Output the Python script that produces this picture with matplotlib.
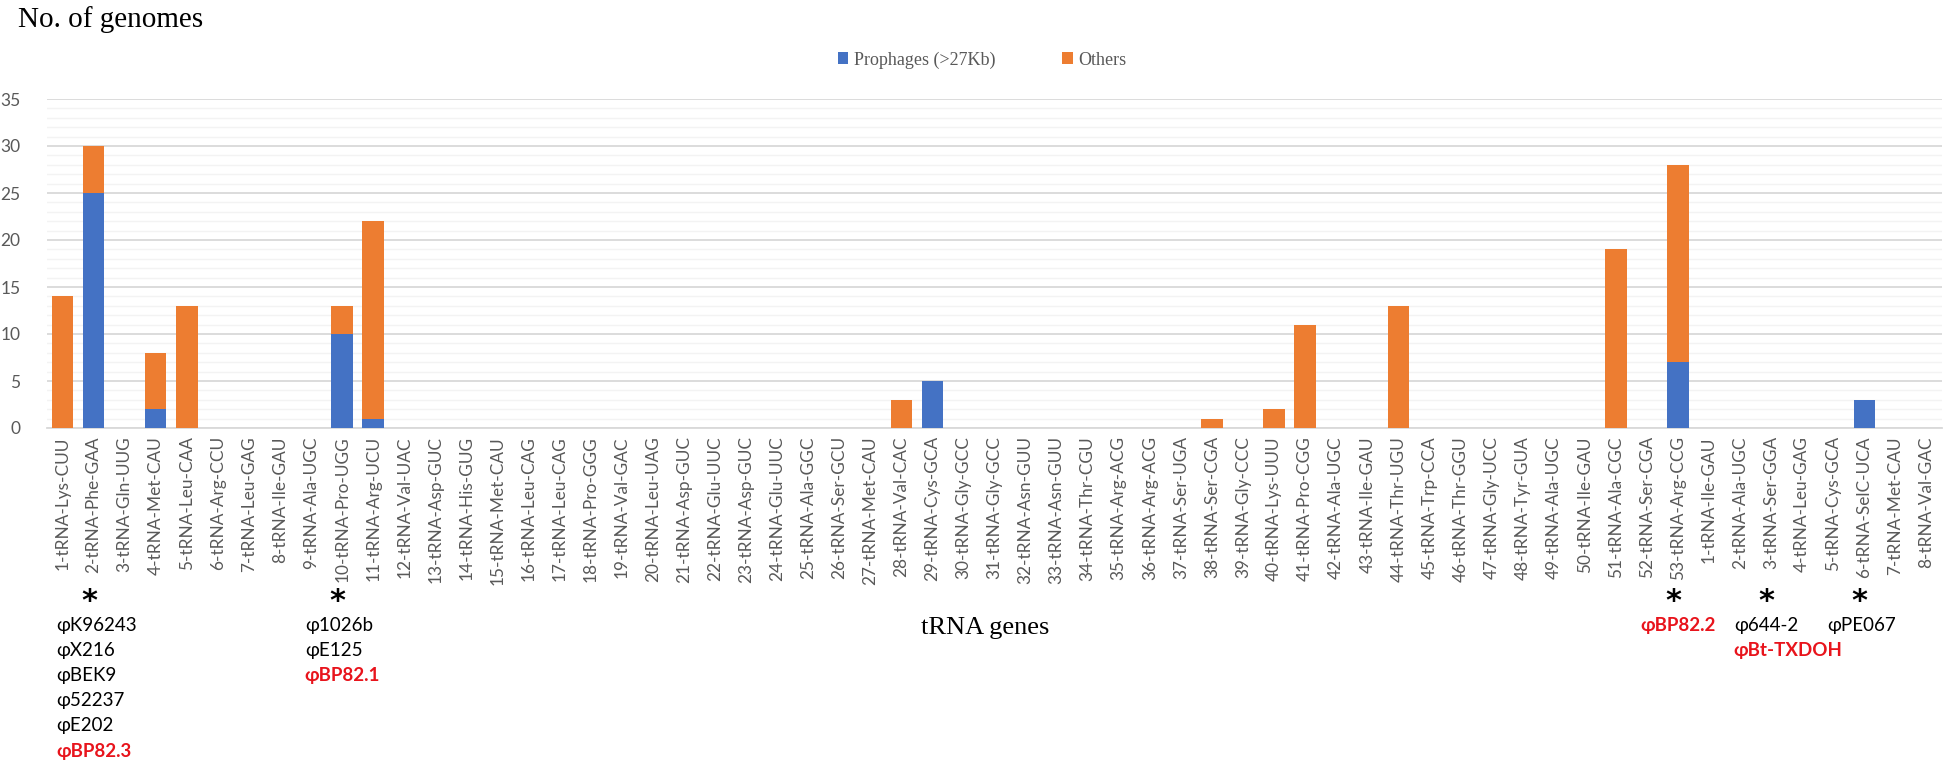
import matplotlib
matplotlib.use("Agg")
import matplotlib.pyplot as plt
import numpy as np
from matplotlib.transforms import blended_transform_factory
from matplotlib.ticker import MultipleLocator

categories = [
    "1-tRNA-Lys-CUU", "2-tRNA-Phe-GAA", "3-tRNA-Gln-UUG", "4-tRNA-Met-CAU", "5-tRNA-Leu-CAA",
    "6-tRNA-Arg-CCU", "7-tRNA-Leu-GAG", "8-tRNA-Ile-GAU", "9-tRNA-Ala-UGC", "10-tRNA-Pro-UGG",
    "11-tRNA-Arg-UCU", "12-tRNA-Val-UAC", "13-tRNA-Asp-GUC", "14-tRNA-His-GUG", "15-tRNA-Met-CAU",
    "16-tRNA-Leu-CAG", "17-tRNA-Leu-CAG", "18-tRNA-Pro-GGG", "19-tRNA-Val-GAC", "20-tRNA-Leu-UAG",
    "21-tRNA-Asp-GUC", "22-tRNA-Glu-UUC", "23-tRNA-Asp-GUC", "24-tRNA-Glu-UUC", "25-tRNA-Ala-GGC",
    "26-tRNA-Ser-GCU", "27-tRNA-Met-CAU", "28-tRNA-Val-CAC", "29-tRNA-Cys-GCA", "30-tRNA-Gly-GCC",
    "31-tRNA-Gly-GCC", "32-tRNA-Asn-GUU", "33-tRNA-Asn-GUU", "34-tRNA-Thr-CGU", "35-tRNA-Arg-ACG",
    "36-tRNA-Arg-ACG", "37-tRNA-Ser-UGA", "38-tRNA-Ser-CGA", "39-tRNA-Gly-CCC", "40-tRNA-Lys-UUU",
    "41-tRNA-Pro-CGG", "42-tRNA-Ala-UGC", "43-tRNA-Ile-GAU", "44-tRNA-Thr-UGU", "45-tRNA-Trp-CCA",
    "46-tRNA-Thr-GGU", "47-tRNA-Gly-UCC", "48-tRNA-Tyr-GUA", "49-tRNA-Ala-UGC", "50-tRNA-Ile-GAU",
    "51-tRNA-Ala-CGC", "52-tRNA-Ser-CGA", "53-tRNA-Arg-CCG", "1-tRNA-Ile-GAU", "2-tRNA-Ala-UGC",
    "3-tRNA-Ser-GGA", "4-tRNA-Leu-GAG", "5-tRNA-Cys-GCA", "6-tRNA-SelC-UCA", "7-tRNA-Met-CAU",
    "8-tRNA-Val-GAC",
]

prophages = [0, 25, 0, 2, 0, 0, 0, 0, 0, 10,
             1, 0, 0, 0, 0, 0, 0, 0, 0, 0,
             0, 0, 0, 0, 0, 0, 0, 0, 5, 0,
             0, 0, 0, 0, 0, 0, 0, 0, 0, 0,
             0, 0, 0, 0, 0, 0, 0, 0, 0, 0,
             0, 0, 7, 0, 0, 0, 0, 0, 3, 0,
             0]
others = [14, 5, 0, 6, 13, 0, 0, 0, 0, 3,
          21, 0, 0, 0, 0, 0, 0, 0, 0, 0,
          0, 0, 0, 0, 0, 0, 0, 3, 0, 0,
          0, 0, 0, 0, 0, 0, 0, 1, 0, 2,
          11, 0, 0, 13, 0, 0, 0, 0, 0, 0,
          19, 0, 21, 0, 0, 0, 0, 0, 0, 0,
          0]

series_names = ["Prophages (>27Kb)", "Others"]

# annotations: category -> list of phage names (highlighted ones in red)
annot_labels = ["2-tRNA-Phe-GAA", "10-tRNA-Pro-UGG", "53-tRNA-Arg-CCG", "3-tRNA-Ser-GGA", "6-tRNA-SelC-UCA"]
annot_idx = [1, 9, 52, 55, 58]
annot_names = [
    ["φK96243", "φX216", "φBEK9", "φ52237", "φE202", "φBP82.3"],
    ["φ1026b", "φE125", "φBP82.1"],
    ["φBP82.2"],
    ["φ644-2", "φBt-TXDOH"],
    ["φPE067"],
]
annot_red = [
    [False, False, False, False, False, True],
    [False, False, True],
    [True],
    [False, True],
    [False],
]

BLUE = "#4472C4"
ORANGE = "#ED7D31"
GRID = "#D9D9D9"
TXT = "#595959"
RED = "#E8141C"

W, H = 1949, 766
fig = plt.figure(figsize=(W / 100, H / 100), dpi=100)
ax = fig.add_axes([47 / W, 1 - 428 / H, (1942 - 47) / W, (428 - 99) / H])

x = np.arange(len(categories))
bw = 0.69
ax.bar(x, prophages, width=bw, color=BLUE, label=series_names[0], zorder=3)
ax.bar(x, others, width=bw, bottom=prophages, color=ORANGE, label=series_names[1], zorder=3)

ax.set_xlim(-0.5, len(categories) - 0.5)
ax.set_ylim(0, 35)
ax.yaxis.set_major_locator(MultipleLocator(5))
ax.yaxis.set_minor_locator(MultipleLocator(1))
ax.grid(axis="y", which="major", color=GRID, linewidth=1.3, zorder=0)
ax.grid(axis="y", which="minor", color="#F3F3F3", linewidth=1.0, zorder=0)
for s in ["top", "right", "left"]:
    ax.spines[s].set_visible(False)
ax.spines["bottom"].set_color(GRID)
ax.spines["bottom"].set_linewidth(1.3)
ax.tick_params(axis="both", which="both", length=0)
ax.tick_params(axis="y", pad=19, labelsize=12.5, labelcolor=TXT)
ax.tick_params(axis="x", pad=6, labelcolor=TXT)
ax.set_xticks(x)
ax.set_xticklabels(categories, rotation=90, fontsize=12.4, family="Lato", color=TXT)
for lab in ax.get_yticklabels():
    lab.set_family("Lato")

# legend
leg = fig.legend(loc="center", bbox_to_anchor=(982 / W, 1 - 60 / H), ncol=2, frameon=False,
                 prop={"family": "Liberation Serif", "size": 13}, handlelength=0.6,
                 handleheight=0.6, handletextpad=0.3, columnspacing=3.7)
for t in leg.get_texts():
    t.set_color(TXT)

# y axis title at top-left
fig.text(18 / W, 1 - 20 / H, "No. of genomes", family="Liberation Serif", fontsize=21,
         ha="left", va="center", color="black")

# x axis title
fig.text(985 / W, 1 - 628 / H, "tRNA genes", family="Liberation Serif", fontsize=19,
         ha="center", va="center", color="black")

# annotations
tr = blended_transform_factory(ax.transData, fig.transFigure)
for idx, names, reds in zip(annot_idx, annot_names, annot_red):
    ax.text(idx - 0.15, 1 - 601 / H, "*", transform=tr, ha="center", va="center",
            fontsize=22, fontweight="bold", family="DejaVu Sans", color="black")
    for j, (nm, rd) in enumerate(zip(names, reds)):
        ax.text(idx - 1.2, 1 - (625 + 25.2 * j) / H, nm, transform=tr, ha="left", va="center",
                fontsize=13.5, family="Lato", fontweight="bold" if rd else "normal",
                color=RED if rd else "black")

fig.savefig("out.png", dpi=100)
